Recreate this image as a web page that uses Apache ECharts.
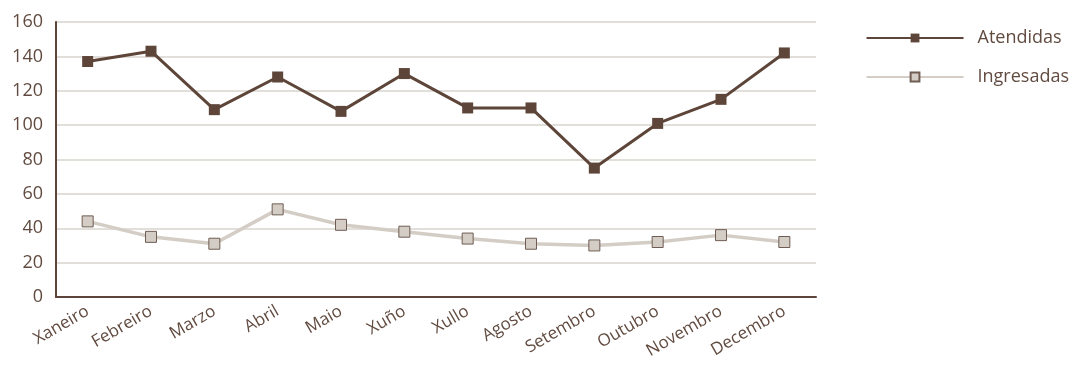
<!DOCTYPE html>
<html><head><meta charset="utf-8">
<script src="https://cdn.jsdelivr.net/npm/echarts@6/dist/echarts.min.js"></script>
<style>html,body{margin:0;padding:0;background:#fff}#c{width:1078px;height:369px}</style>
</head><body><div id="c"></div>
<script>
const months = ['Xaneiro','Febreiro','Marzo','Abril','Maio','Xuño','Xullo','Agosto','Setembro','Outubro','Novembro','Decembro'];
const atendidas = [137,143,109,128,108,130,110,110,75,101,115,142];
const ingresadas = [44,35,31,51,42,38,34,31,30,32,36,32];
const yTicks = [0,20,40,60,80,100,120,140,160];

const dark = '#5d4539', light = '#d3cdc5', txt = '#614b40';
const FF = 'Open Sans';
const chart = echarts.init(document.getElementById('c'));
chart.setOption({
  animation:false,
  textStyle:{fontFamily:FF},
  legend:{
    orient:'vertical', right:4, top:24, itemWidth:97, itemHeight:11, itemGap:21,
    textStyle:{color:txt, fontSize:18, fontFamily:FF, padding:[0,0,0,9]},
    data:['Atendidas','Ingresadas']
  },
  grid:{left:56, top:22, width:760, height:275, containLabel:false},
  xAxis:{
    type:'category', data:months, boundaryGap:true,
    axisLine:{lineStyle:{color:dark, width:2}},
    axisTick:{inside:true, length:6, lineStyle:{color:dark, width:1.5}},
    axisLabel:{rotate:30, color:txt, fontSize:17, fontFamily:FF, margin:13}
  },
  yAxis:{
    type:'value', min:0, max:160, interval:20,
    axisLine:{show:true, lineStyle:{color:dark, width:2}},
    axisTick:{show:false},
    axisLabel:{color:txt, fontSize:18, fontFamily:FF, margin:13},
    splitLine:{lineStyle:{color:'#d9d3cc', width:1.5}}
  },
  series:[
    {name:'Atendidas', type:'line', data:atendidas, symbol:'rect', symbolSize:11,
     lineStyle:{color:dark, width:3}, itemStyle:{color:dark, borderWidth:0}},
    {name:'Ingresadas', type:'line', data:ingresadas, symbol:'rect', symbolSize:11,
     lineStyle:{color:light, width:3.5}, itemStyle:{color:'#d3cdc5', borderColor:'#6f5d53', borderWidth:1}}
  ]
});
</script></body></html>
